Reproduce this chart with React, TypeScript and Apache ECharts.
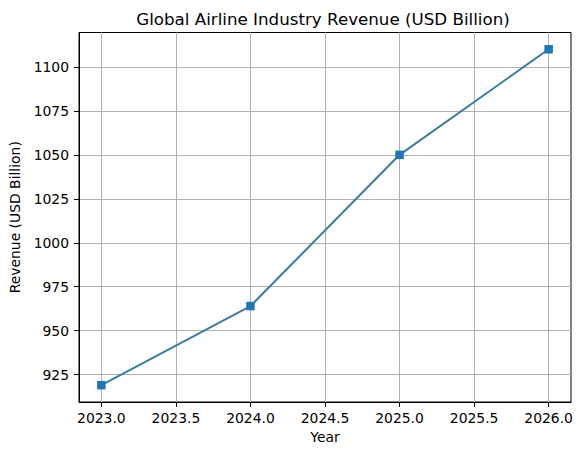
import React, { useEffect, useRef } from "react";
import * as echarts from "echarts";

const years = [2023, 2024, 2025, 2026];
const revenue = [919, 964, 1050, 1110];
const xTicks = [2023.0, 2023.5, 2024.0, 2024.5, 2025.0, 2025.5, 2026.0];
const yTicks = [925, 950, 975, 1000, 1025, 1050, 1075, 1100];
const titleText = "Global Airline Industry Revenue (USD Billion)";
const xLabel = "Year";
const yLabel = "Revenue (USD Billion)";

export default function App() {
  const ref = useRef<HTMLDivElement>(null);
  useEffect(() => {
    document.body.style.margin = "0";
    const chart = echarts.init(ref.current!, null, { renderer: "svg" });
    const xMin = Math.min(...years), xMax = Math.max(...years);
    const xPad = (xMax - xMin) * 0.05;
    const yMinD = Math.min(...revenue), yMaxD = Math.max(...revenue);
    const yPad = (yMaxD - yMinD) * 0.05;
    const font = "DejaVu Sans";
    chart.setOption({
      animation: false,
      backgroundColor: "#ffffff",
      title: {
        text: titleText,
        left: 318,
        textAlign: "center",
        top: 5,
        textStyle: { fontFamily: font, fontSize: 16.7, fontWeight: "normal", color: "#000" },
      },
      grid: {
        left: 75,
        right: 11,
        top: 32.5,
        bottom: 53,
        show: true,
        borderColor: "#000",
        borderWidth: 1,
        backgroundColor: "transparent",
      },
      xAxis: {
        type: "value",
        min: xMin - xPad,
        max: xMax + xPad,
        name: xLabel,
        nameLocation: "middle",
        nameGap: 28,
        nameTextStyle: { fontFamily: font, fontSize: 13.9, color: "#000" },
        axisLine: { show: true, onZero: false, lineStyle: { color: "#000", width: 1 } },
        axisTick: { show: true, length: 5, customValues: xTicks, lineStyle: { color: "#000", width: 1 } },
        axisLabel: {
          fontFamily: font,
          fontSize: 13.9,
          color: "#000",
          margin: 9,
          customValues: xTicks,
          formatter: (v: number) => v.toFixed(1),
        },
        splitLine: { show: true, lineStyle: { color: "#b0b0b0", width: 1 } },
      },
      yAxis: {
        type: "value",
        min: yMinD - yPad,
        max: yMaxD + yPad,
        name: yLabel,
        nameLocation: "middle",
        nameGap: 57,
        nameTextStyle: { fontFamily: font, fontSize: 13.9, color: "#000" },
        axisLine: { show: true, onZero: false, lineStyle: { color: "#000", width: 1 } },
        axisTick: { show: true, length: 5, customValues: yTicks, lineStyle: { color: "#000", width: 1 } },
        axisLabel: {
          fontFamily: font,
          fontSize: 13.9,
          color: "#000",
          margin: 10,
          customValues: yTicks,
          formatter: (v: number) => String(Math.round(v)),
        },
        splitLine: { show: true, lineStyle: { color: "#b0b0b0", width: 1 } },
      },
      series: [
        {
          type: "line",
          data: years.map((y, i) => [y, revenue[i]]),
          symbol: "rect",
          symbolSize: 8.5,
          showAllSymbol: true,
          lineStyle: { color: "#3a7ca0", width: 2 },
          itemStyle: { color: "#1f77b4" },
        },
      ],
    });
    return () => chart.dispose();
  }, []);
  return <div ref={ref} style={{ width: 582, height: 455 }} />;
}
